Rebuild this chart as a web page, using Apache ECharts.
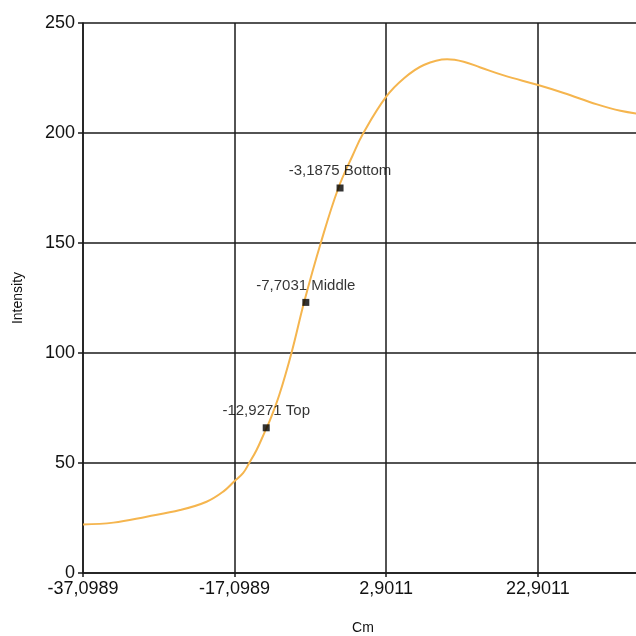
<!DOCTYPE html>
<html>
<head>
<meta charset="utf-8">
<script src="https://cdn.jsdelivr.net/npm/echarts@6/dist/echarts.min.js"></script>
<style>
html,body{margin:0;padding:0;background:#fff;}
#c{width:636px;height:636px;}
</style>
</head>
<body>
<div id="c"></div>
<script>
// Curve (Cm vs Intensity)
var curveX = [-37.0989, -33.1, -28.7, -24.3, -20.8, -18.6, -17.1, -15.96, -15.17, -14.2, -13.2, -12.43, -11.2, -9.56, -7.94, -5.74, -3.42, -1.5, -0.11, 2.9, 5.22, 7.86, 10.94, 13.13, 15.33, 18.41, 22.94, 26.32, 30.72, 33.8, 36.8];
var curveY = [22.1, 22.9, 25.6, 28.6, 32.4, 37.0, 41.8, 45.5, 50.0, 55.9, 63.5, 69.5, 81.0, 100.5, 123.0, 149.9, 174.9, 190.0, 200.0, 216.5, 224.8, 230.9, 233.5, 232.4, 229.8, 226.2, 221.8, 218.2, 213.0, 210.1, 208.5];

// Marked points
var markX = [-12.9271, -7.7031, -3.1875];
var markY = [66, 123, 175];
var markNames = ['Top', 'Middle', 'Bottom'];

// Axis settings
var xMin = -37.0989, xMax = 36.78, xStep = 20;
var yMin = 0, yMax = 250, yStep = 50;

function fmt(v) { return v.toFixed(4).replace('.', ','); }
function fmtTick(v) {
  var k = Math.round((v - xMin) / xStep);
  return fmt(xMin + k * xStep);
}

var curveData = curveX.map(function (x, i) { return [x, curveY[i]]; });
var markData = markX.map(function (x, i) { return { value: [x, markY[i]], name: markNames[i] }; });

var font = '"Liberation Sans", Arial, sans-serif';
var chart = echarts.init(document.getElementById('c'), null, { renderer: 'canvas' });
chart.setOption({
  animation: false,
  backgroundColor: '#fff',
  grid: { left: 83, top: 23, width: 560, bottom: 63, containLabel: false, outerBoundsMode: 'none' },
  xAxis: {
    type: 'value', min: xMin, max: xMax, interval: xStep,
    name: 'Cm', nameLocation: 'middle', nameGap: 48,
    nameTextStyle: { fontFamily: font, fontSize: 14, color: '#111' },
    axisLine: { show: true, onZero: false, lineStyle: { color: '#1a1a1a', width: 1.5 } },
    axisTick: { show: true, inside: false, length: 4, lineStyle: { color: '#1a1a1a', width: 1.5 } },
    axisLabel: { fontFamily: font, fontSize: 18, color: '#111', margin: 7, showMaxLabel: false, showMinLabel: true, formatter: fmtTick },
    splitLine: { show: true, lineStyle: { color: '#1a1a1a', width: 1.5 } }
  },
  yAxis: {
    type: 'value', min: yMin, max: yMax, interval: yStep,
    name: 'Intensity', nameLocation: 'middle', nameGap: 58, nameRotate: 90,
    nameTextStyle: { fontFamily: font, fontSize: 14, color: '#111' },
    axisLine: { show: true, onZero: false, lineStyle: { color: '#1a1a1a', width: 1.5 } },
    axisTick: { show: true, inside: false, length: 5, lineStyle: { color: '#1a1a1a', width: 1.5 } },
    axisLabel: { fontFamily: font, fontSize: 18, color: '#111', margin: 8 },
    splitLine: { show: true, lineStyle: { color: '#1a1a1a', width: 1.5 } }
  },
  series: [
    {
      type: 'line', data: curveData, smooth: 0.4,
      showSymbol: false, symbol: 'none',
      lineStyle: { color: '#F5B54E', width: 2 }, z: 3
    },
    {
      type: 'scatter', data: markData, symbol: 'rect', symbolSize: 7,
      itemStyle: { color: '#000' }, z: 4,
      label: {
        show: true, position: 'top', distance: 6,
        fontFamily: font, fontSize: 15, color: '#000',
        formatter: function (p) { return fmt(p.value[0]) + ' ' + p.name; }
      }
    }
  ]
});
</script>
</body>
</html>
